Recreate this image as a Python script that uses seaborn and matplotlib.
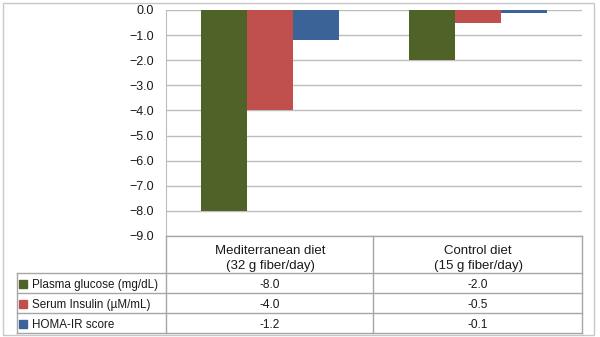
import matplotlib
matplotlib.use('Agg')
import matplotlib.pyplot as plt
from matplotlib.lines import Line2D
from matplotlib.patches import Rectangle
import seaborn as sns
import pandas as pd

####### Data #######
diets = ['Mediterranean diet\n(32 g fiber/day)', 'Control diet\n(15 g fiber/day)']
measures = ['Plasma glucose (mg/dL)', 'Serum Insulin (\u00b5M/mL)', 'HOMA-IR score']
glucose = [-8.0, -2.0]
insulin = [-4.0, -0.5]
homa = [-1.2, -0.1]
yticks = [0.0, -1.0, -2.0, -3.0, -4.0, -5.0, -6.0, -7.0, -8.0, -9.0]
colors = ['#4F6228', '#C0504D', '#3B6398']

df = pd.DataFrame({
    'diet': diets * 3
    ,'measure': [measures[0]] * 2 + [measures[1]] * 2 + [measures[2]] * 2
    ,'value': glucose + insulin + homa
    })

####### Layout helpers (pixel coords, top-left origin) #######
W, H = 600, 337
def fx(x):
    return x / W
def fy(y):
    return 1 - y / H

plt.rcParams['font.family'] = ['Liberation Sans', 'DejaVu Sans']
txt_color = '#1a1a1a'
grid_color = '#BDBDBD'
line_color = '#A6A6A6'

fig = plt.figure(figsize=(6, 3.37), dpi=100)
ax = fig.add_axes([fx(166), fy(236), (582 - 166) / W, (236 - 10) / H])

sns.barplot(data=df, x='diet', y='value', hue='measure', order=diets, hue_order=measures,
            palette=colors, saturation=1, width=0.663, gap=0, legend=False, ax=ax)

ax.set_ylim(-9, 0)
ax.set_yticks(yticks)
ax.set_yticklabels([('%.1f' % t).replace('-', '\u2212') if t else '0.0' for t in yticks],
                   fontsize=9, color=txt_color)
ax.tick_params(axis='y', length=0, pad=9)
ax.set_xticks([])
ax.set_xlabel('')
ax.set_ylabel('')
ax.yaxis.grid(True, color=grid_color, linewidth=1)
ax.set_axisbelow(True)
for s in ['top', 'right', 'bottom']:
    ax.spines[s].set_visible(False)
ax.spines['left'].set_color(grid_color)

####### Data table below the chart #######
def hline(y, x0, x1):
    fig.add_artist(Line2D([fx(x0), fx(x1)], [fy(y), fy(y)], color=line_color, linewidth=1))
def vline(x, y0, y1):
    fig.add_artist(Line2D([fx(x), fx(x)], [fy(y0), fy(y1)], color=line_color, linewidth=1))

hline(236, 166, 582)
for y in [273, 293, 313, 333]:
    hline(y, 17, 582)
vline(17, 273, 333)
vline(166, 236, 333)
vline(373, 236, 333)
vline(582, 236, 333)

col_centers = [270, 478]
for d, xc in zip(diets, col_centers):
    fig.text(fx(xc), fy(258.5), d, ha='center', va='center', fontsize=9.5, color=txt_color,
             linespacing=1.25)

series = [glucose, insulin, homa]
row_centers = [284, 304, 324]
for m, vals, c, yc in zip(measures, series, colors, row_centers):
    fig.add_artist(Rectangle((fx(19), fy(yc + 3.5)), 8 / W, 7.5 / H, color=c, transform=fig.transFigure))
    fig.text(fx(31.5), fy(yc + 1), m, ha='left', va='center', fontsize=8.4, color=txt_color)
    for v, xc in zip(vals, col_centers):
        fig.text(fx(xc), fy(yc + 1), '%.1f' % v, ha='center', va='center', fontsize=8.6, color=txt_color)

# outer border
fig.add_artist(Rectangle((fx(3), fy(335)), (594 - 3) / W, (335 - 3) / H, fill=False,
                         edgecolor='#C8C8C8', linewidth=1, transform=fig.transFigure))

fig.savefig('out.png', dpi=100)
